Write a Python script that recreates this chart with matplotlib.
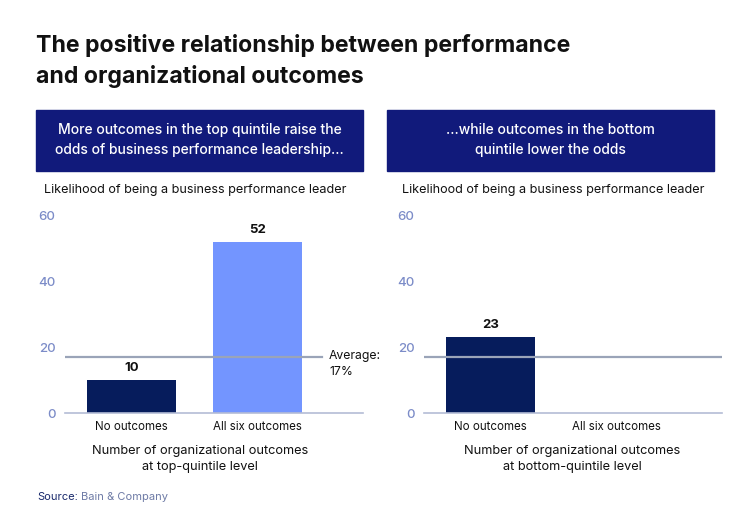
import matplotlib
matplotlib.use("Agg")
import matplotlib.pyplot as plt
from matplotlib.patches import Rectangle

plt.rcParams['font.family'] = ['Inter', 'DejaVu Sans']

categories = ["No outcomes", "All six outcomes"]
top_values = [10, 52]
bottom_values = [23, 0]
average = 17
yticks = [0, 20, 40, 60]

title = "The positive relationship between performance\nand organizational outcomes"
left_header = "More outcomes in the top quintile raise the\nodds of business performance leadership..."
right_header = "...while outcomes in the bottom\nquintile lower the odds"
ylabel_text = "Likelihood of being a business performance leader"
left_xlabel = "Number of organizational outcomes\nat top-quintile level"
right_xlabel = "Number of organizational outcomes\nat bottom-quintile level"

W, H = 750, 524
fig = plt.figure(figsize=(7.5, 5.24), dpi=100)

def fx(px):
    return px / W

def fy(py):
    return 1 - py / H

BOX = "#111A7B"
DARK = "#061C5C"
LIGHT = "#7395FF"
TICK = "#7C8CC8"
AXLINE = "#B4BCD6"
AVG = "#9AA4B8"

fig.text(fx(36), fy(61), title, fontsize=16.6, fontweight='bold', color='#111111',
         va='center', ha='left', linespacing=1.4)

# header boxes
for x0, x1, txt in [(36, 363, left_header), (387, 714, right_header)]:
    fig.patches.append(Rectangle((fx(x0), fy(171)), fx(x1) - fx(x0), fy(110) - fy(171),
                                 transform=fig.transFigure, color=BOX, zorder=0))
    fig.text(fx((x0 + x1) / 2), fy(140), txt, color='white', fontsize=10,
             fontweight='medium', ha='center', va='center', linespacing=1.5)

fig.text(fx(44), fy(190), ylabel_text, fontsize=9.1, color='#111111', va='center')
fig.text(fx(402), fy(190), ylabel_text, fontsize=9.1, color='#111111', va='center')

def make_axes(x0, values, colors, avg_xmax):
    ax = fig.add_axes([fx(x0), fy(413), fx(298), 197 / H])
    xs = list(range(len(categories)))
    bars = ax.bar(xs, values, width=0.706, color=colors, zorder=2)
    for b, v in zip(bars, values):
        if v > 0:
            ax.text(b.get_x() + b.get_width() / 2, v + 2.0, str(v), ha='center', va='bottom',
                    fontsize=9.5, fontweight='bold', color='#111111')
    ax.axhline(average, xmin=0, xmax=avg_xmax, color=AVG, lw=1.6, zorder=3)
    ax.set_xlim(-0.528, 1.837)
    ax.set_ylim(0, 60)
    ax.set_yticks(yticks)
    ax.set_yticklabels([str(t) for t in yticks], color=TICK, fontsize=9.5, fontweight='medium')
    ax.set_xticks(xs)
    ax.set_xticklabels(categories, fontsize=8.3, color='#111111')
    ax.tick_params(axis='both', length=0)
    ax.tick_params(axis='y', pad=7)
    ax.tick_params(axis='x', pad=6)
    for s in ['top', 'right', 'left']:
        ax.spines[s].set_visible(False)
    ax.spines['bottom'].set_color(AXLINE)
    ax.spines['bottom'].set_linewidth(1.2)
    ax.patch.set_alpha(0)
    return ax

axL = make_axes(65, top_values, [DARK, LIGHT], 0.862)
axR = make_axes(424, bottom_values, [DARK, DARK], 1.0)

fig.text(fx(329), fy(364), "Average:\n" + f"{average}%", fontsize=8.8, color='#111111',
         va='center', ha='left', linespacing=1.45)

fig.text(fx(200), fy(459), left_xlabel, fontsize=9.2, color='#111111', ha='center',
         va='center', linespacing=1.5)
fig.text(fx(572), fy(459), right_xlabel, fontsize=9.2, color='#111111', ha='center',
         va='center', linespacing=1.5)

t1 = fig.text(fx(37), fy(497), "Source:", fontsize=8, color='#1A2A6C', va='center')
fig.canvas.draw()
bb = t1.get_window_extent()
fig.text(bb.x1 / W + fx(3), fy(497), "Bain & Company", fontsize=8, color='#6E7BA6', va='center')

fig.savefig("out.png", dpi=100)
